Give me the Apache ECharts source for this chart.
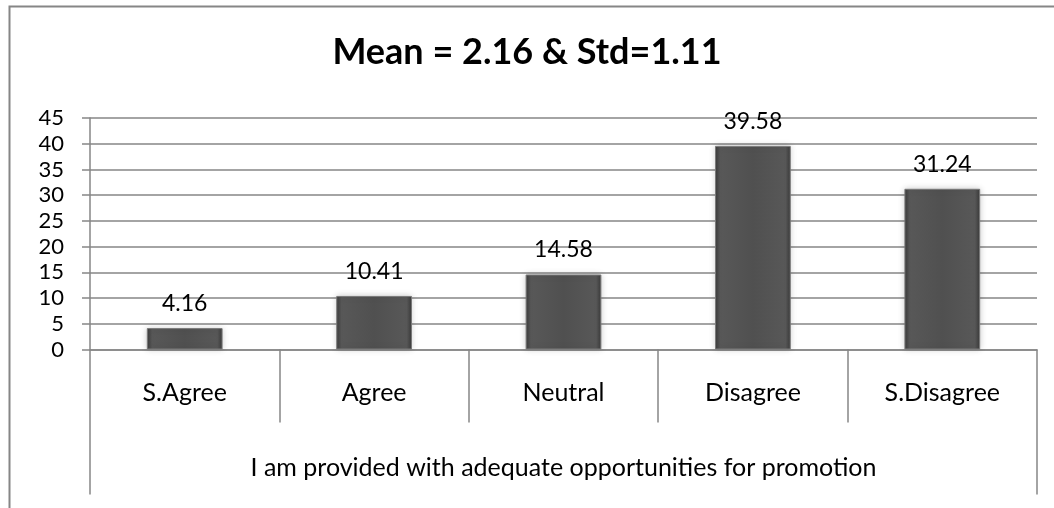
<!DOCTYPE html>
<html>
<head>
<meta charset="utf-8">
<script src="https://cdn.jsdelivr.net/npm/echarts@6/dist/echarts.min.js"></script>
<style>
  html, body { margin: 0; padding: 0; background: #fff; }
  #chart { width: 1054px; height: 508px; }
</style>
</head>
<body>
<div id="chart"></div>
<script>
// Survey responses (percent of respondents)
const titleText = 'Mean = 2.16 & Std=1.11';
const categories = ['S.Agree', 'Agree', 'Neutral', 'Disagree', 'S.Disagree'];
const percentages = [4.16, 10.41, 14.58, 39.58, 31.24];
const questionLabel = ['I am provided with adequate opportunities for promotion'];
const yMin = 0, yMax = 45, yStep = 5;

const FONT = 'Lato, "Open Sans", sans-serif';
const LINE = '#868686';

const chart = echarts.init(document.getElementById('chart'), null, { renderer: 'canvas' });

chart.setOption({
  animation: false,
  backgroundColor: '#ffffff',
  title: {
    text: titleText,
    left: 'center',
    top: 29,
    textStyle: { fontFamily: FONT, fontSize: 36, fontWeight: 'bold', color: '#000' }
  },
  graphic: [{
    type: 'rect',
    shape: { x: 9.5, y: 6.5, width: 1200, height: 700 },
    style: { fill: 'none', stroke: LINE, lineWidth: 2 },
    silent: true
  }],
  grid: { left: 90, right: 17, top: 118, bottom: 158.5, containLabel: false },
  xAxis: [{
    type: 'category',
    data: categories,
    position: 'bottom',
    axisLine: { show: true, lineStyle: { color: LINE, width: 1.5 } },
    axisTick: { show: true, interval: 0, length: 73, lineStyle: { color: LINE, width: 1.5 } },
    axisLabel: { interval: 0, margin: 31, fontFamily: FONT, fontSize: 25, color: '#000' }
  }, {
    type: 'category',
    data: questionLabel,
    position: 'bottom',
    axisLine: { show: false },
    axisTick: { show: true, interval: 0, length: 145, lineStyle: { color: LINE, width: 1.5 } },
    axisLabel: { interval: 0, margin: 106, fontFamily: FONT, fontSize: 25, color: '#000' }
  }],
  yAxis: {
    type: 'value',
    min: yMin,
    max: yMax,
    interval: yStep,
    axisLine: { show: true, lineStyle: { color: LINE, width: 1.5 } },
    axisTick: { show: true, length: 8, lineStyle: { color: LINE, width: 1.5 } },
    axisLabel: { margin: 26, fontFamily: FONT, fontSize: 22, color: '#000' },
    splitLine: { show: true, lineStyle: { color: LINE, width: 1.5 } }
  },
  series: [{
    type: 'bar',
    xAxisIndex: 0,
    data: percentages,
    barWidth: '40%',
    itemStyle: {
      color: new echarts.graphic.LinearGradient(0, 0, 1, 0, [
        { offset: 0, color: '#3a3a3a' },
        { offset: 0.07, color: '#585858' },
        { offset: 0.5, color: '#505050' },
        { offset: 0.93, color: '#585858' },
        { offset: 1, color: '#3a3a3a' }
      ]),
      borderColor: '#7a7a7a',
      borderWidth: 1,
      shadowColor: 'rgba(0,0,0,0.18)',
      shadowBlur: 6
    },
    label: {
      show: true,
      position: 'top',
      distance: 13,
      fontFamily: FONT,
      fontSize: 23,
      color: '#000',
      formatter: p => p.value.toFixed(2)
    }
  }]
});
</script>
</body>
</html>
